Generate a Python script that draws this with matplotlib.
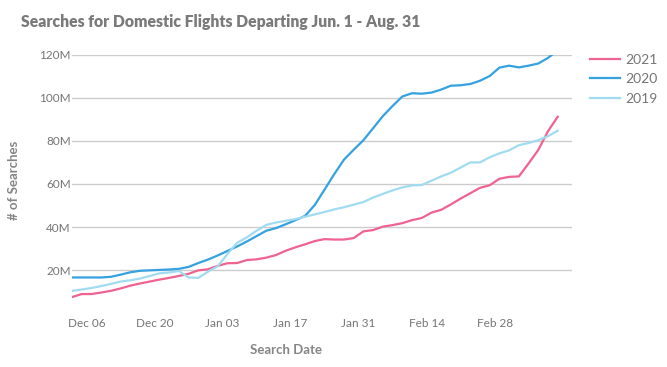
import numpy as np
import pandas as pd
import matplotlib
matplotlib.use("Agg")
import matplotlib.pyplot as plt
import matplotlib.dates as mdates
import matplotlib.ticker as mticker

# búsquedas (millones), una lectura cada 2 días desde el 3 dic 2020
fechas = pd.date_range("2020-12-03", periods=51, freq="2D")

busq_2021 = [7.5, 8.9, 8.9, 9.6, 10.4, 11.5, 12.8, 13.8, 14.7, 15.6,
             16.4, 17.3, 18.3, 19.9, 20.4, 22.0, 23.2, 23.3, 24.7, 25.0,
             25.8, 27.0, 29.0, 30.6, 32.0, 33.5, 34.4, 34.2, 34.2, 34.9,
             38.0, 38.6, 40.2, 40.9, 41.8, 43.2, 44.2, 46.7, 48.0, 50.5,
             53.2, 55.7, 58.2, 59.4, 62.4, 63.3, 63.5, 69.5, 75.8, 84.5,
             91.2]

busq_2020 = [16.6, 16.6, 16.6, 16.6, 16.9, 17.9, 19.0, 19.7, 19.9, 20.1,
             20.3, 20.6, 21.5, 23.3, 24.9, 26.8, 28.9, 31.0, 33.3, 35.8,
             38.3, 39.5, 41.3, 43.2, 45.2, 50.3, 57.4, 64.6, 71.3, 75.9,
             80.3, 85.9, 91.5, 96.2, 100.6, 102.1, 101.9, 102.4, 103.8, 105.6,
             105.8, 106.4, 107.9, 110.1, 114.0, 114.9, 114.1, 114.9, 115.9, 118.5,
             122.0]

busq_2019 = [10.4, 11.0, 11.7, 12.6, 13.6, 14.7, 15.3, 16.1, 17.3, 18.5,
             18.9, 19.6, 16.6, 16.4, 19.3, 21.8, 27.5, 32.7, 35.2, 38.3,
             41.0, 42.1, 42.9, 43.7, 44.8, 45.9, 47.0, 48.2, 49.2, 50.4,
             51.6, 53.7, 55.4, 57.0, 58.4, 59.3, 59.5, 61.5, 63.5, 65.2,
             67.6, 70.0, 70.0, 72.4, 74.2, 75.6, 78.0, 79.0, 80.3, 82.2,
             84.7]

series = [("2021", busq_2021, "#F0628F"),
          ("2020", busq_2020, "#34A1E0"),
          ("2019", busq_2019, "#A0DBF1")]

ticks_x = pd.date_range("2020-12-06", periods=7, freq="14D")
ticks_y = [20, 40, 60, 80, 100, 120]

plt.rcParams["font.family"] = ["Lato", "DejaVu Sans"]
GRIS = "#757575"

fig = plt.figure(figsize=(6.67, 3.67), dpi=100)
ax = fig.add_axes([0.108, 0.17, 0.75, 0.681])

for nombre, valores, color in series:
    ax.plot(fechas, valores, color=color, lw=1.6, label=nombre,
            solid_joinstyle="round")

ax.set_ylim(4, 120)
ax.set_xlim(pd.Timestamp("2020-12-03"), pd.Timestamp("2021-03-16"))
ax.set_yticks(ticks_y)
ax.yaxis.set_major_formatter(mticker.FuncFormatter(lambda v, p: f"{v:.0f}M"))
ax.set_xticks(ticks_x)
ax.xaxis.set_major_formatter(mdates.DateFormatter("%b %d"))

ax.grid(axis="y", color="#cccccc", lw=1)
ax.set_axisbelow(True)
for s in ax.spines.values():
    s.set_visible(False)
ax.tick_params(length=0, labelsize=8.5, labelcolor=GRIS)
ax.tick_params(axis="x", pad=10)
ax.tick_params(axis="y", pad=1)

fig.text(0.031, 0.963, "Searches for Domestic Flights Departing Jun. 1 - Aug. 31",
         fontsize=11.3, fontweight="heavy", color="#7a7a7a", va="top", ha="left")
fig.text(286 / 667, 1 - 350 / 367, "Search Date", fontsize=9.5,
         fontweight="bold", color="#858585", ha="center", va="center")
fig.text(14 / 667, 1 - 180 / 367, "# of Searches", fontsize=9.5,
         fontweight="bold", color="#858585", ha="center", va="center",
         rotation=90)

leg = ax.legend(loc="upper left", bbox_to_anchor=(584 / 667, 1 - 48 / 367),
                bbox_transform=fig.transFigure, frameon=False, fontsize=10,
                handlelength=2.2, handletextpad=0.4, labelspacing=0.55,
                borderaxespad=0)
for t in leg.get_texts():
    t.set_color(GRIS)

fig.savefig("out.png", dpi=100)
